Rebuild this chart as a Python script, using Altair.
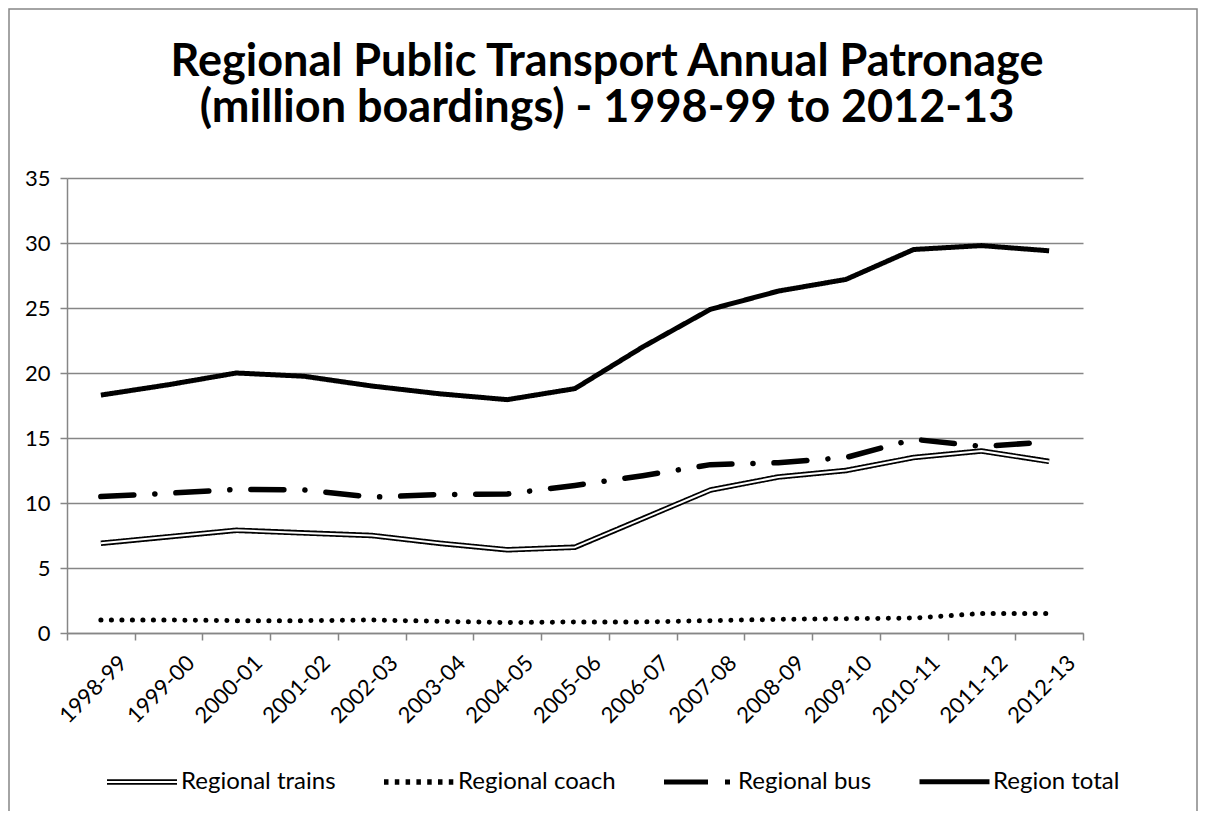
import altair as alt
import pandas as pd

years = ["1998-99", "1999-00", "2000-01", "2001-02", "2002-03", "2003-04", "2004-05",
         "2005-06", "2006-07", "2007-08", "2008-09", "2009-10", "2010-11", "2011-12", "2012-13"]
series_names = ["Regional trains", "Regional coach", "Regional bus", "Region total"]
trains = [6.9, 7.4, 7.9, 7.7, 7.5, 6.9, 6.4, 6.6, 8.8, 11.0, 12.0, 12.5, 13.5, 14.0, 13.2]
coach = [1.0, 1.0, 0.95, 0.95, 1.0, 0.9, 0.8, 0.85, 0.85, 0.95, 1.05, 1.1, 1.15, 1.5, 1.5]
bus = [10.5, 10.75, 11.05, 11.0, 10.45, 10.65, 10.7, 11.35, 12.1, 12.95, 13.1, 13.5, 14.9, 14.35, 14.7]
total = [18.3, 19.1, 20.0, 19.75, 19.0, 18.4, 17.95, 18.8, 22.0, 24.9, 26.3, 27.2, 29.5, 29.8, 29.4]

rows = []
for name, vals in zip(series_names, [trains, coach, bus, total]):
    for y, v in zip(years, vals):
        rows.append({"year": y, "series": name, "value": v})
df = pd.DataFrame(rows)

FONT = "Lato"
GRID = "#868686"
AXIS_SIZE = 22
LEGEND_SIZE = 24
CLEAR = "rgba(0,0,0,0)"

x_enc = alt.X("year:N", sort=years, title=None, bandPosition=0.5,
              scale=alt.Scale(type="band", domain=years, paddingInner=0, paddingOuter=0),
              axis=alt.Axis(labelAngle=-45, tickBand="extent", tickSize=7, tickColor=GRID,
                            domainColor=GRID, domainWidth=1.5, tickWidth=1.5,
                            labelFontSize=AXIS_SIZE, labelColor="black", labelPadding=12,
                            labelOffset=15, grid=False))
y_enc = alt.Y("value:Q", title=None,
              scale=alt.Scale(domain=[0, 35], nice=False),
              axis=alt.Axis(values=[0, 5, 10, 15, 20, 25, 30, 35], tickSize=7, tickColor=GRID,
                            tickWidth=1.5, domainColor=GRID, domainWidth=1.5,
                            gridColor=GRID, gridWidth=1.5, labelFontSize=AXIS_SIZE,
                            labelColor="black", labelPadding=10))

legend_common = dict(orient="none", legendX=37, legendY=566, direction="horizontal",
                     title=None, symbolType="stroke", symbolSize=4900,
                     labelFontSize=LEGEND_SIZE, labelFont=FONT, labelColor="black",
                     columnPadding=37, labelOffset=1, padding=0, labelLimit=400)

# solid series (trains outer stroke, total) + the merged legend for all four series
solid = alt.Chart(df).transform_filter(
    (alt.datum.series == "Regional trains") | (alt.datum.series == "Region total")
).mark_line(strokeCap="butt", strokeJoin="round").encode(
    x=x_enc, y=y_enc,
    color=alt.Color("series:N", sort=series_names,
                    scale=alt.Scale(domain=series_names, range=["black"] * 4),
                    legend=alt.Legend(**legend_common)),
    strokeDash=alt.StrokeDash("series:N", sort=series_names,
                              scale=alt.Scale(domain=series_names,
                                              range=[[1, 0], [4.5, 6.3], [44, 17, 5, 20], [1, 0]]),
                              legend=alt.Legend(**legend_common)),
    strokeWidth=alt.StrokeWidth("series:N", sort=series_names,
                                scale=alt.Scale(domain=series_names, range=[5.5, 5, 5.5, 5.5]),
                                legend=alt.Legend(**legend_common)),
)

# white core of the double "Regional trains" line, with a one-entry overlay legend
inner_legend = dict(legend_common)
inner_legend.update(legendX=39, legendY=568)
inner = alt.Chart(df).transform_filter(alt.datum.series == "Regional trains").mark_line(
    strokeCap="butt", strokeJoin="round", strokeWidth=2).encode(
    x=x_enc, y=y_enc,
    color=alt.Color("series:N", sort=series_names,
                    scale=alt.Scale(domain=series_names, range=["white", CLEAR, CLEAR, CLEAR]),
                    legend=alt.Legend(values=["Regional trains"], labelExpr="''",
                                      symbolStrokeWidth=2, **inner_legend)),
)

coach_line = alt.Chart(df).transform_filter(alt.datum.series == "Regional coach").mark_line(
    color="black", strokeWidth=5, strokeDash=[0.1, 10.4], strokeCap="round").encode(
    x=x_enc, y=y_enc)

bus_line = alt.Chart(df).transform_filter(alt.datum.series == "Regional bus").mark_line(
    color="black", strokeWidth=5.5, strokeDash=[33, 21, 0.1, 21], strokeCap="round",
    strokeJoin="round").encode(x=x_enc, y=y_enc)

frame = alt.Chart(pd.DataFrame({"f": [0]})).mark_rect(
    fill=None, stroke=GRID, strokeWidth=1.5).encode(
    x=alt.value(-58), x2=alt.value(1130), y=alt.value(-169), y2=alt.value(700))

chart = alt.layer(frame, coach_line, bus_line, solid, inner).resolve_scale(
    color="independent", strokeWidth="independent", strokeDash="independent"
).resolve_legend(
    color="independent", strokeWidth="independent", strokeDash="independent"
).properties(
    width=1016, height=455,
    autosize=alt.AutoSizeParams(type="none"),
    padding={"left": 59, "top": 170, "right": 115, "bottom": 178},
    title=alt.TitleParams(["Regional Public Transport Annual Patronage",
                           "(million boardings) - 1998-99 to 2012-13"],
                          fontSize=45, font=FONT, fontWeight="bold", color="black",
                          lineHeight=46, anchor="middle", frame="group", offset=0,
                          dy=123, dx=32),
).configure_view(stroke=None).configure_axis(labelFont=FONT)

chart.save("out.html", embed_options={"renderer": "svg", "actions": False})
